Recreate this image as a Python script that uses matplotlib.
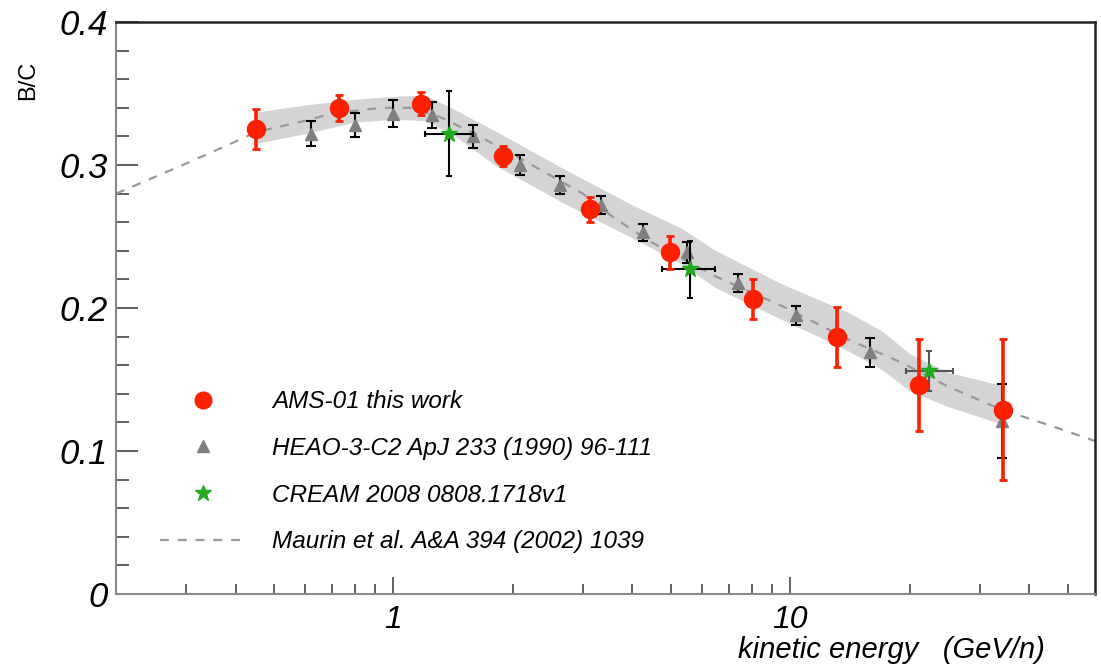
import numpy as np
import matplotlib.pyplot as plt
from matplotlib.lines import Line2D
from matplotlib.ticker import FixedLocator, LogLocator, NullFormatter, MultipleLocator

plt.rcParams['font.family'] = ['Liberation Sans', 'DejaVu Sans']

# AMS-01 this work
ams_e = [0.45, 0.73, 1.17, 1.89, 3.13, 4.99, 8.07, 13.1, 21.1, 34.4]
ams_bc = [0.325, 0.340, 0.343, 0.306, 0.269, 0.239, 0.206, 0.180, 0.146, 0.129]
ams_err = [0.014, 0.009, 0.008, 0.007, 0.0085, 0.0115, 0.014, 0.021, 0.032, 0.049]

# HEAO-3-C2
heao_e = [0.62, 0.80, 1.00, 1.25, 1.59, 2.09, 2.63, 3.34, 4.26, 5.5, 7.4, 10.35, 15.9, 34.2]
heao_bc = [0.322, 0.328, 0.336, 0.335, 0.320, 0.300, 0.286, 0.272, 0.253, 0.239, 0.2175, 0.195, 0.169, 0.121]
heao_err = [0.0087, 0.0084, 0.0094, 0.009, 0.008, 0.007, 0.0066, 0.0066, 0.006, 0.0073, 0.0063, 0.0066, 0.010, 0.026]

# CREAM 2008
cream_e = [1.38, 5.6, 22.4]
cream_bc = [0.322, 0.227, 0.156]
cream_err = [0.030, 0.020, 0.014]
cream_elo = [1.20, 4.76, 19.6]
cream_ehi = [1.59, 6.47, 25.7]

# Maurin et al. model curve
model_e = [0.2, 0.3, 0.39, 0.45, 0.6, 0.7, 0.93, 1.1, 1.3, 1.6, 2.2, 3.0, 3.6, 4.4, 6.5, 9.6, 14, 19, 25, 34, 45, 58.6]
model_bc = [0.280, 0.301, 0.315, 0.323, 0.331, 0.336, 0.340, 0.340, 0.334, 0.322, 0.301, 0.280, 0.263, 0.247,
            0.222, 0.201, 0.178, 0.162, 0.145, 0.129, 0.118, 0.107]

# uncertainty band
band_e = [0.45, 0.6, 0.8, 1.0, 1.2, 1.4, 1.8, 2.7, 4.0, 5.3, 6.5, 9.5, 12, 14, 17, 20, 25, 34]
band_hi = [0.337, 0.342, 0.346, 0.348, 0.349, 0.340, 0.324, 0.297, 0.272, 0.256, 0.240, 0.217, 0.205, 0.197,
           0.184, 0.168, 0.155, 0.146]
band_lo = [0.315, 0.322, 0.330, 0.332, 0.331, 0.322, 0.300, 0.273, 0.249, 0.231, 0.214, 0.192, 0.179, 0.170,
           0.157, 0.142, 0.131, 0.119]

labels = ['AMS-01 this work', 'HEAO-3-C2 ApJ 233 (1990) 96-111',
          'CREAM 2008 0808.1718v1', 'Maurin et al. A&A 394 (2002) 1039']

red = '#fa2000'
grey = '#808080'
green = '#1faa1f'

fig = plt.figure(figsize=(11.01, 6.67), dpi=100)
ax = fig.add_axes([0.1054, 0.1094, 0.8892, 0.8576])

ax.fill_between(band_e, band_lo, band_hi, color='#d4d4d4', lw=0, zorder=1)
ax.plot(model_e, model_bc, color='#999999', lw=1.6, dashes=(4, 4), zorder=2)

ax.errorbar(heao_e, heao_bc, yerr=heao_err, fmt='^', color=grey, ms=9, ecolor='black',
            elinewidth=1.5, capsize=3.5, capthick=1.5, zorder=3)
ax.errorbar(cream_e[:2], cream_bc[:2], yerr=cream_err[:2],
            xerr=[np.array(cream_e[:2]) - np.array(cream_elo[:2]), np.array(cream_ehi[:2]) - np.array(cream_e[:2])],
            fmt='*', color=green, ms=12, ecolor='black', elinewidth=1.5, capsize=2.5, capthick=1.5, zorder=4)
ax.errorbar(cream_e[2:], cream_bc[2:], yerr=cream_err[2:],
            xerr=[np.array(cream_e[2:]) - np.array(cream_elo[2:]), np.array(cream_ehi[2:]) - np.array(cream_e[2:])],
            fmt='*', color=green, ms=12, ecolor='#555555', elinewidth=1.5, capsize=2.5, capthick=1.5, zorder=4)
ax.errorbar(ams_e, ams_bc, yerr=ams_err, fmt='o', color=red, ms=13, ecolor=red,
            elinewidth=2.6, capsize=3, capthick=2, zorder=5)

ax.set_xscale('log')
ax.set_xlim(0.2, 58.6)
ax.set_ylim(0, 0.4)

ax.xaxis.set_major_locator(FixedLocator([1, 10]))
ax.xaxis.set_minor_locator(LogLocator(base=10, subs=np.arange(2, 10)))
ax.xaxis.set_minor_formatter(NullFormatter())
ax.set_xticks([1, 10], labels=['1', '10'], fontsize=23, fontstyle='italic')
ax.set_yticks([0, 0.1, 0.2, 0.3, 0.4], labels=['0', '0.1', '0.2', '0.3', '0.4'], fontsize=25, fontstyle='italic')
ax.yaxis.set_minor_locator(MultipleLocator(0.02))

ax.tick_params(axis='both', which='both', direction='in', color='#555555', width=1.3,
               top=False, right=False)
ax.tick_params(axis='x', which='major', length=12, pad=8)
ax.tick_params(axis='x', which='minor', length=7)
ax.tick_params(axis='y', which='major', length=16, pad=6)
ax.tick_params(axis='y', which='minor', length=9)

for side in ['left', 'bottom']:
    ax.spines[side].set_color('#888888')
    ax.spines[side].set_linewidth(1.5)
for side in ['top', 'right']:
    ax.spines[side].set_color('#222222')
    ax.spines[side].set_linewidth(1.8)

fig.text(0.0254, 0.88, 'B/C', rotation=90, fontsize=17, ha='center', va='center')
fig.text(0.949, 0.004, 'kinetic energy   (GeV/n)', fontsize=21, fontstyle='italic',
         ha='right', va='bottom')

handles = [
    Line2D([], [], marker='o', color=red, ls='none', ms=12),
    Line2D([], [], marker='^', color=grey, ls='none', ms=9),
    Line2D([], [], marker='*', color=green, ls='none', ms=12),
    Line2D([], [], color='#999999', lw=1.6, dashes=(4, 4)),
]
ax.legend(handles, labels, loc='upper left', bbox_to_anchor=(0.045, 0.356), frameon=False,
          borderpad=0, borderaxespad=0, handlelength=3.5, handletextpad=1.1, labelspacing=0.97,
          prop={'size': 17.5, 'style': 'italic'})

fig.savefig('out.png', dpi=100)
